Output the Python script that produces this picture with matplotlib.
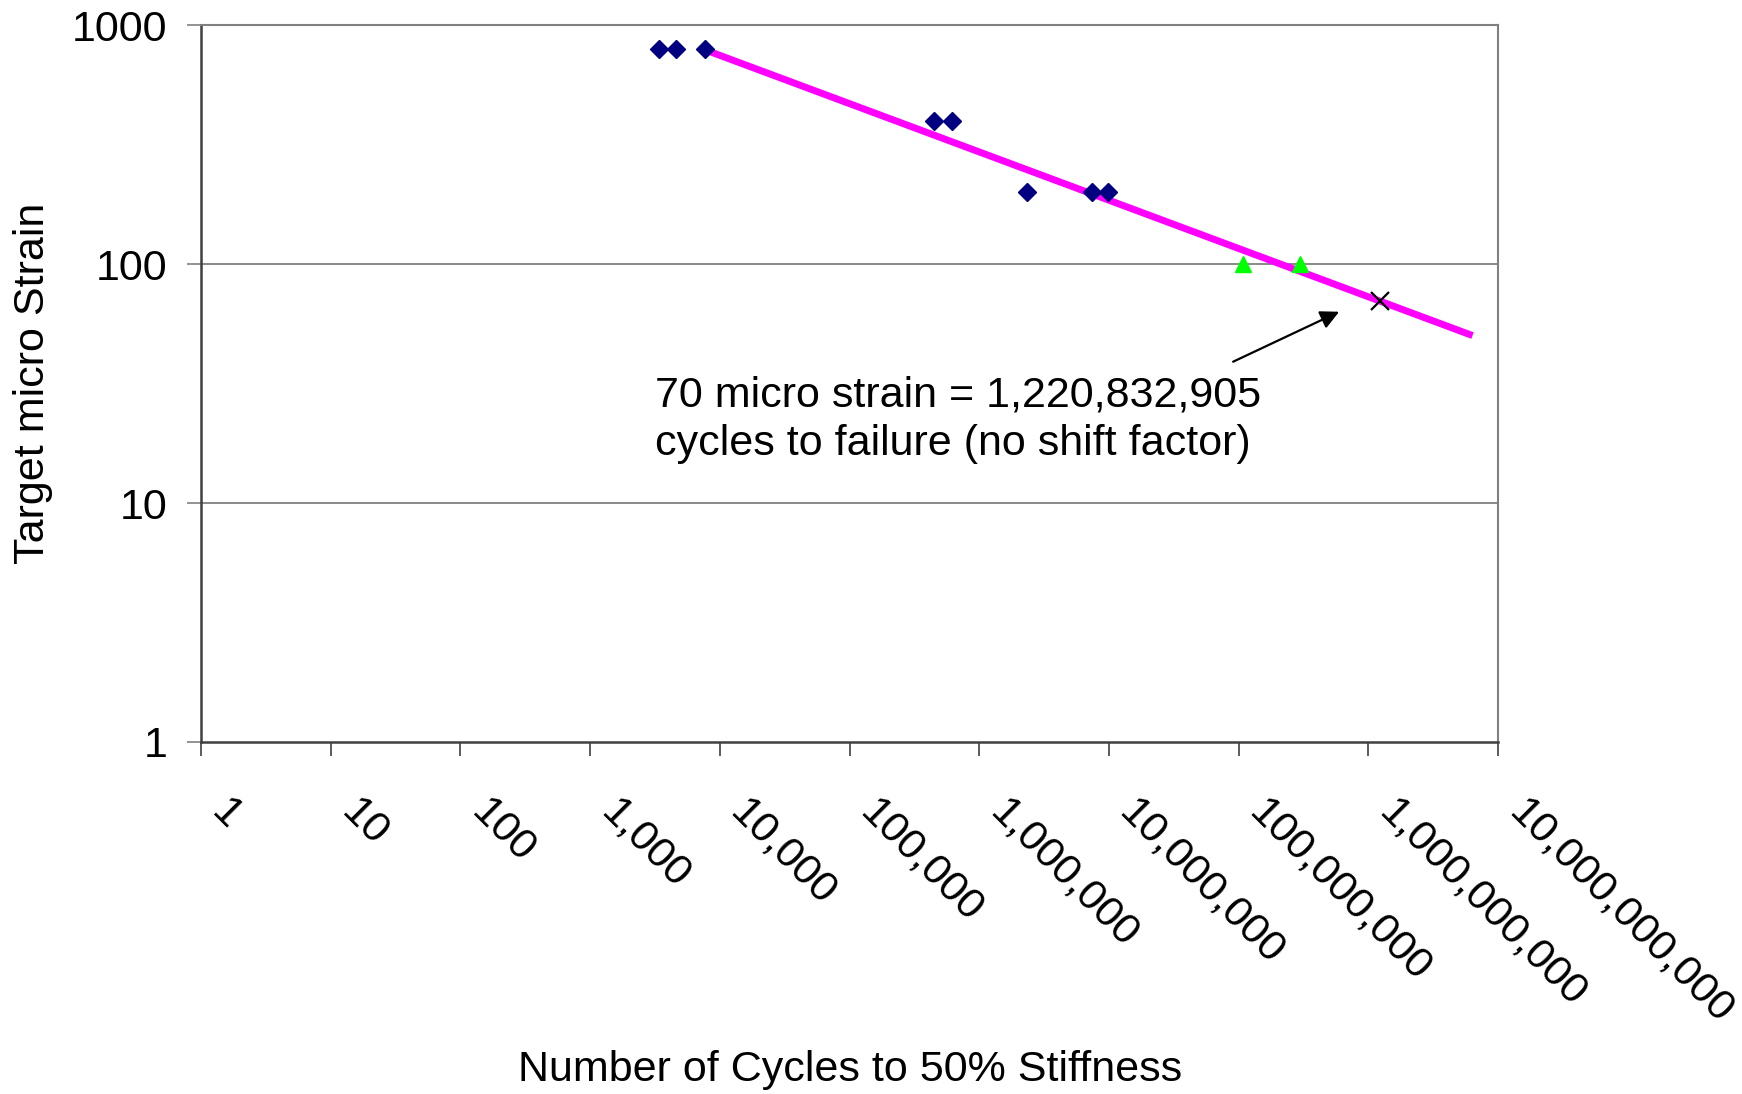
import matplotlib
matplotlib.use('Agg')
import matplotlib.pyplot as plt
from matplotlib.transforms import ScaledTranslation

plt.rcParams['font.family'] = ['Liberation Sans', 'DejaVu Sans']

# fatigue test results: cycles to 50% stiffness vs target micro strain
lab_cycles = [3390, 4560, 7620, 444000, 621000, 2330000, 7450000, 9800000]
lab_strain = [800, 800, 800, 400, 400, 200, 200, 200]

low_cycles = [107000000, 298000000]
low_strain = [100, 100]

# predicted point at 70 micro strain
pred_cycles = [1220832905]
pred_strain = [70]

# power-law trend line end points
trend_cycles = [7620, 6350000000]
trend_strain = [792, 50.3]

x_ticks = [1, 10, 100, 1000, 10000, 100000, 1000000, 10000000,
           100000000, 1000000000, 10000000000]
x_tick_labels = ['1', '10', '100', '1,000', '10,000', '100,000', '1,000,000',
                 '10,000,000', '100,000,000', '1,000,000,000', '10,000,000,000']
y_ticks = [1, 10, 100, 1000]
y_tick_labels = ['1', '10', '100', '1000']

FS = 31


def main():
    fig = plt.figure(figsize=(17.42, 10.94), dpi=100)
    ax = fig.add_axes([0.1154, 0.3218, 0.7446, 0.6549])

    ax.set_xscale('log')
    ax.set_yscale('log')
    ax.set_xlim(1, 1e10)
    ax.set_ylim(1, 1000)

    for y in [10, 100]:
        ax.axhline(y, color='#808080', linewidth=1.3, zorder=1)

    ax.plot(trend_cycles, trend_strain, color='#FF00FF', linewidth=5,
            solid_capstyle='butt', zorder=2)
    ax.plot(lab_cycles, lab_strain, linestyle='none', marker='D',
            markersize=9, color='#000080', zorder=3)
    ax.plot(low_cycles, low_strain, linestyle='none', marker='^',
            markersize=12, color='#00FF00', zorder=3)
    ax.plot(pred_cycles, pred_strain, linestyle='none', marker='x',
            markersize=13, markeredgewidth=1.6, color='black', zorder=4)

    ax.annotate('', xy=(5.95e8, 63.3), xytext=(9.06e7, 39.1),
                arrowprops=dict(arrowstyle='-|>', color='black', lw=1.6,
                                mutation_scale=28, shrinkA=0, shrinkB=0))
    ax.text(0.350, 0.512,
            '70 micro strain = 1,220,832,905\ncycles to failure (no shift factor)',
            transform=ax.transAxes, ha='left', va='top', fontsize=FS,
            linespacing=1.3)

    ax.set_xticks(x_ticks)
    ax.set_xticklabels(x_tick_labels, rotation=-45, rotation_mode='anchor',
                       ha='left', va='top', fontsize=FS)
    ax.xaxis.set_minor_locator(matplotlib.ticker.NullLocator())
    ax.set_yticks(y_ticks)
    ax.set_yticklabels(y_tick_labels, fontsize=FS)
    ax.yaxis.set_minor_locator(matplotlib.ticker.NullLocator())

    ax.tick_params(axis='x', direction='out', length=10, width=1.2,
                   color='#404040', pad=26)
    ax.tick_params(axis='y', direction='out', length=10, width=1.2,
                   color='#808080', pad=14)
    shift = ScaledTranslation(31 / 100, 0, fig.dpi_scale_trans)
    for lbl in ax.get_xticklabels():
        lbl.set_transform(lbl.get_transform() + shift)

    for side in ['top', 'right']:
        ax.spines[side].set_color('#808080')
        ax.spines[side].set_linewidth(1.5)
    for side in ['left', 'bottom']:
        ax.spines[side].set_color('#404040')
        ax.spines[side].set_linewidth(1.8)

    ax.set_xlabel('Number of Cycles to 50% Stiffness', fontsize=FS)
    ax.set_ylabel('Target micro Strain', fontsize=FS)
    ax.xaxis.label.set_va('center')
    ax.yaxis.label.set_va('center')
    ax.xaxis.set_label_coords(0.5004, -0.458)
    ax.yaxis.set_label_coords(-0.1295, 0.5)

    fig.savefig('out.png', dpi=100, facecolor='white')


if __name__ == '__main__':
    main()
